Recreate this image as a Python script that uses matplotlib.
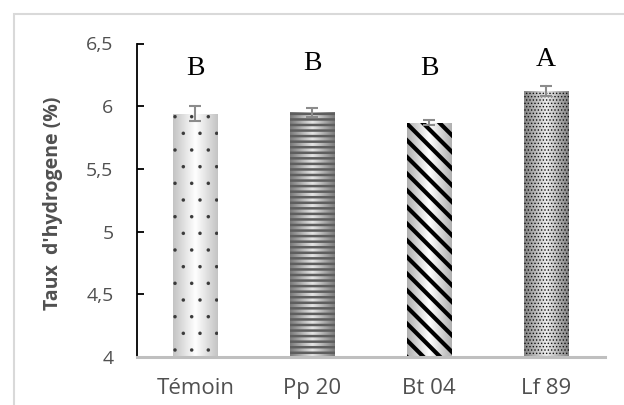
import numpy as np
import matplotlib
matplotlib.use("Agg")
import matplotlib.pyplot as plt
from matplotlib.patches import Rectangle
from matplotlib.colors import LinearSegmentedColormap

# hydrogen content per treatment
treatments = ["Témoin", "Pp 20", "Bt 04", "Lf 89"]
hydrogen = [5.94, 5.95, 5.87, 6.12]
hydrogen_err = [0.06, 0.035, 0.02, 0.04]
groups = ["B", "B", "B", "A"]
group_y = [6.30, 6.34, 6.30, 6.37]

# fill textures (hatch, hatch colour, hatch width, edge/centre shades)
textures = [
    (".", "#3a3a3a", 0.1, "#c4c4c4", "#ffffff"),
    ("---", "#5e5e5e", 1.8, "#7a7a7a", "#e6e6e6"),
    ("\\\\", "#000000", 3.0, "#b0b0b0", "#ffffff"),
    (".....", "#111111", 0.6, "#858585", "#eeeeee"),
]

plt.rcParams["font.family"] = ["Open Sans", "DejaVu Sans"]

fig = plt.figure(figsize=(6.24, 4.05), dpi=100)
ax = fig.add_axes([137 / 624, 48 / 405, 467.5 / 624, 313.5 / 405])

x = np.arange(len(treatments))
bars = ax.bar(x, hydrogen, width=0.385, bottom=0, color="none", linewidth=0, zorder=2)
ax.set_ylim(4, 6.5)
ax.set_xlim(-0.5, len(treatments) - 0.5)

# cylinder-like shading inside each bar, then the hatch on top
for bar, (hatch, hcol, hlw, edge, centre) in zip(bars, textures):
    bx, bw, bh = bar.get_x(), bar.get_width(), bar.get_height()
    cmap = LinearSegmentedColormap.from_list("shade", [edge, centre, edge])
    grad = np.linspace(0, 1, 64).reshape(1, -1)
    im = ax.imshow(grad, cmap=cmap, aspect="auto", extent=(bx, bx + bw, 4, bh),
                   zorder=2, interpolation="bicubic")
    im.set_clip_path(bar)
    hb = ax.bar(bar.get_x() + bw / 2, bh, width=bw, color="none", edgecolor=hcol,
                hatch=hatch, linewidth=0, zorder=3)[0]
    try:
        hb.set_hatch_linewidth(hlw)
    except AttributeError:
        pass

ax.errorbar(x, hydrogen, yerr=hydrogen_err, fmt="none", ecolor="#8c8c8c",
            elinewidth=1.5, capsize=4, capthick=1.5, zorder=4)

for xi, g, gy in zip(x, groups, group_y):
    ax.text(xi, gy, g, ha="center", va="center", fontsize=20,
            family=["Liberation Serif", "DejaVu Serif"], color="black")

ax.set_yticks([4, 4.5, 5, 5.5, 6, 6.5])
ax.set_yticklabels(["4", "4,5", "5", "5,5", "6", "6,5"])
ax.set_xticks(x)
ax.set_xticklabels(treatments)

for side in ["top", "right"]:
    ax.spines[side].set_visible(False)
ax.spines["left"].set_color("black")
ax.spines["left"].set_linewidth(1.3)
ax.spines["bottom"].set_color("#bfbfbf")
ax.spines["bottom"].set_linewidth(2.2)
ax.spines["bottom"].set_zorder(5)

ax.tick_params(axis="y", direction="in", length=5, width=1.3, color="black",
               labelsize=14, labelcolor="#505050", pad=17)
ax.tick_params(axis="x", length=0, labelsize=16, labelcolor="#505050", pad=15)

ax.set_ylabel("Taux  d'hydrogene (%)", fontsize=14, fontweight="bold", color="#505050")
ax.yaxis.set_label_coords(-0.158, 0.49)

# light chart-area frame
fig.patches.append(Rectangle((13.5 / 624, -0.05), 1.0, 1 - 14 / 405 + 0.05,
                             transform=fig.transFigure, fill=False,
                             edgecolor="#d9d9d9", linewidth=1.5))

fig.savefig("out.png", dpi=100)
